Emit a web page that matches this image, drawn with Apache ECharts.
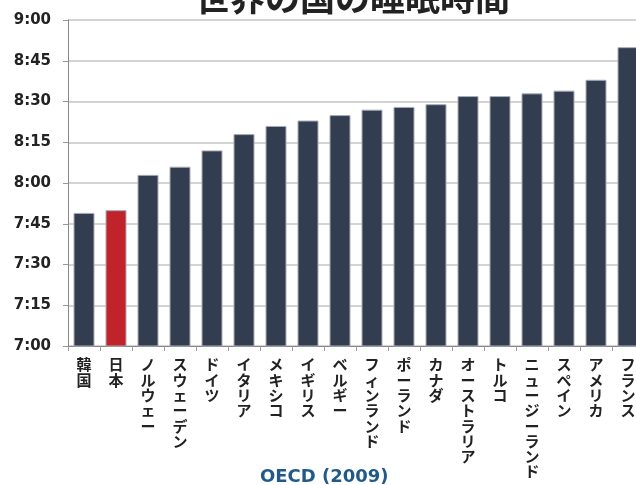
<!DOCTYPE html>
<html>
<head>
<meta charset="utf-8">
<script src="https://cdn.jsdelivr.net/npm/echarts@6/dist/echarts.min.js"></script>
<style>
  html, body { margin: 0; padding: 0; overflow: hidden; background: #fff; }
  #main { width: 644px; height: 485px; }
</style>
</head>
<body>
<div id="main"></div>
<script>
// countries, sorted by sleep time
const countries = ['韓国', '日本', 'ノルウェー', 'スウェーデン', 'ドイツ', 'イタリア', 'メキシコ', 'イギリス', 'ベルギー',
  'フィンランド', 'ポーランド', 'カナダ', 'オーストラリア', 'トルコ', 'ニュージーランド', 'スペイン', 'アメリカ', 'フランス']
// sleep time in minutes per day
const sleepMinutes = [469, 470, 483, 486, 492, 498, 501, 503, 505, 507, 508, 509, 512, 512, 513, 514, 518, 530]
const highlight = '日本'

const chart = echarts.init(document.getElementById('main'))

const fmtTime = v => Math.floor(v / 60) + ':' + String(v % 60).padStart(2, '0')

const option = {
  animation: false,
  title: [
    {
      text: '世界の国の睡眠時間',
      left: 190,
      top: -25,
      textStyle: { fontFamily: 'Noto Sans CJK JP', fontSize: 35, fontWeight: 'bold', color: '#222' }
    },
    {
      text: 'OECD (2009)',
      left: 255,
      top: 463,
      textStyle: { fontFamily: 'DejaVu Sans', fontSize: 18, fontWeight: 'bold', color: '#215a8a' }
    }
  ],
  grid: { left: 68, right: 0, top: 20, bottom: 139 },
  xAxis: {
    type: 'category',
    data: countries,
    axisLine: { lineStyle: { color: '#888', width: 1 } },
    axisTick: { show: true, length: 5, lineStyle: { color: '#999' } },
    axisLabel: {
      margin: 11,
      interval: 0,
      fontFamily: 'Noto Sans CJK JP',
      fontSize: 15,
      fontWeight: 'bold',
      color: '#222',
      lineHeight: 15.3,
      formatter: v => v.split('').join('\n')
    }
  },
  yAxis: {
    type: 'value',
    min: 420,
    max: 540,
    interval: 15,
    axisLine: { show: true, lineStyle: { color: '#888', width: 1 } },
    axisTick: { show: true, length: 5, lineStyle: { color: '#999' } },
    splitLine: { lineStyle: { color: '#c4c4c4', width: 1.5 } },
    axisLabel: {
      margin: 17,
      fontFamily: 'DejaVu Sans',
      fontSize: 15,
      fontWeight: 'bold',
      color: '#222',
      formatter: fmtTime
    }
  },
  series: [{
    type: 'bar',
    barWidth: 21,
    data: sleepMinutes.map((v, i) => ({
      value: v,
      itemStyle: { color: countries[i] === highlight ? '#c1232b' : '#333d50' }
    })),
    itemStyle: { borderColor: '#a8adb6', borderWidth: 1 }
  }]
}

chart.setOption(option)
</script>
</body>
</html>
